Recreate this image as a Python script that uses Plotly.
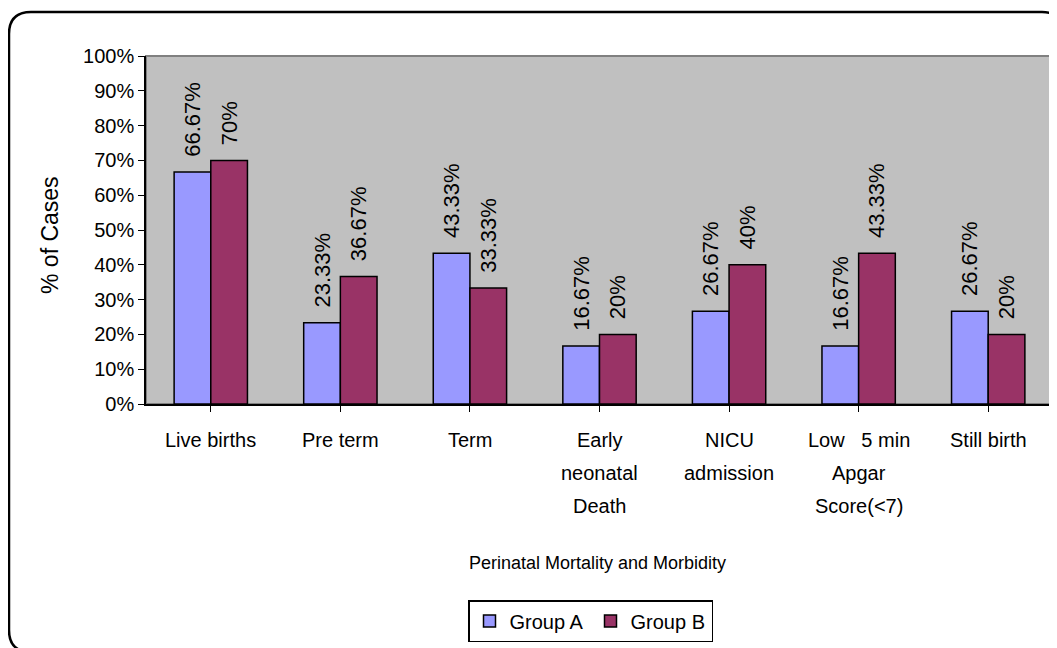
import plotly.graph_objects as go

categories = ["Live births", "Pre term", "Term", "Early<br>neonatal<br>Death",
              "NICU<br>admission", "Low   5 min<br>Apgar<br>Score(<7)", "Still birth"]
group_a = [66.67, 23.33, 43.33, 16.67, 26.67, 16.67, 26.67]
group_b = [70, 36.67, 33.33, 20, 40, 43.33, 20]
y_ticks = [0, 10, 20, 30, 40, 50, 60, 70, 80, 90, 100]

W, H = 1057, 648
OFF = 8  # page body offset in the browser
# plot area edges in screenshot coordinates
PL, PR, PT, PB = 146, 1053, 56, 404
PW, PH = PR - PL, PB - PT
FONT = "Liberation Sans, Arial, sans-serif"

def px(x):
    return (x - PL) / PW

def py(y):
    return (PB - y) / PH

def fmt(v):
    return "\u00a0\u00a0" + (f"{v:g}%")

fig = go.Figure()
for name, vals, col in [("Group A", group_a, "#9999FF"), ("Group B", group_b, "#993366")]:
    fig.add_trace(go.Bar(name=name, x=list(range(len(categories))), y=vals,
                         marker=dict(color=col, line=dict(color="black", width=1.5)),
                         text=[fmt(v) for v in vals], texttemplate="%{text}",
                         textposition="outside", textangle=-90,
                         constraintext="none", cliponaxis=False,
                         textfont=dict(size=22, color="black", family=FONT)))

# category labels as per-line annotations (Excel-like line spacing)
for i, lab in enumerate(categories):
    for j, line in enumerate(lab.split("<br>")):
        fig.add_annotation(x=i, y=0, xref="x", yref="y", text=line, showarrow=False,
                           yanchor="middle", yshift=-36 - 33 * j,
                           font=dict(size=20, color="black", family=FONT))

fig.add_annotation(x=px(597), xref="paper", y=py(563), yref="paper",
                   xanchor="center", yanchor="middle",
                   text="Perinatal Mortality and Morbidity", showarrow=False,
                   font=dict(size=18, color="black", family=FONT))

fig.add_annotation(x=px(50), xref="paper", y=py(235), yref="paper",
                   xanchor="center", yanchor="middle", textangle=-90,
                   text="% of Cases", showarrow=False,
                   font=dict(size=23, color="black", family=FONT))

# plot area border (gray top/right)
fig.add_shape(type="rect", xref="paper", yref="paper", x0=0, x1=1, y0=0, y1=1,
              line=dict(color="#808080", width=2), layer="below")

# outer rounded border
x0, x1, y0, y1, r = 9, 1064, 12, 652, 22
path = (f"M {px(x0)},{py(y0 + r)} Q {px(x0)},{py(y0)} {px(x0 + r)},{py(y0)} "
        f"L {px(x1 - r)},{py(y0)} Q {px(x1)},{py(y0)} {px(x1)},{py(y0 + r)} "
        f"L {px(x1)},{py(y1 - r)} Q {px(x1)},{py(y1)} {px(x1 - r)},{py(y1)} "
        f"L {px(x0 + r)},{py(y1)} Q {px(x0)},{py(y1)} {px(x0)},{py(y1 - r)} Z")
fig.add_shape(type="path", xref="paper", yref="paper", path=path,
              line=dict(color="black", width=2.5))

fig.update_layout(
    width=W, height=H,
    margin=dict(l=PL - OFF, r=W - (PR - OFF), t=PT - OFF, b=H - (PB - OFF), autoexpand=False),
    paper_bgcolor="white", plot_bgcolor="#C0C0C0",
    barmode="group", bargap=0.434, bargroupgap=0,
    font=dict(family=FONT, color="black"),
    showlegend=True,
    legend=dict(orientation="h", x=px(468), xanchor="left", y=py(600), yanchor="top",
                bordercolor="black", borderwidth=1.5, bgcolor="white",
                font=dict(size=20, family=FONT, color="black"),
                itemwidth=30, entrywidth=76, entrywidthmode="pixels",
                tracegroupgap=0),
    xaxis=dict(range=[-0.5, len(categories) - 0.5], tickmode="array",
               tickvals=list(range(len(categories))), ticktext=[""] * len(categories),
               tickson="boundaries", ticks="outside", ticklen=6, tickcolor="black",
               showline=True, linecolor="black", linewidth=1.5, showgrid=False,
               zeroline=False),
    yaxis=dict(range=[0, 100], tickmode="array", tickvals=y_ticks,
               ticktext=[f"{v}%" for v in y_ticks], ticks="outside", ticklen=6,
               tickcolor="black", showline=True, linecolor="black", linewidth=1.5,
               showgrid=False, zeroline=False,
               tickfont=dict(size=20, family=FONT, color="black")),
)

fig.write_html("out.html")
